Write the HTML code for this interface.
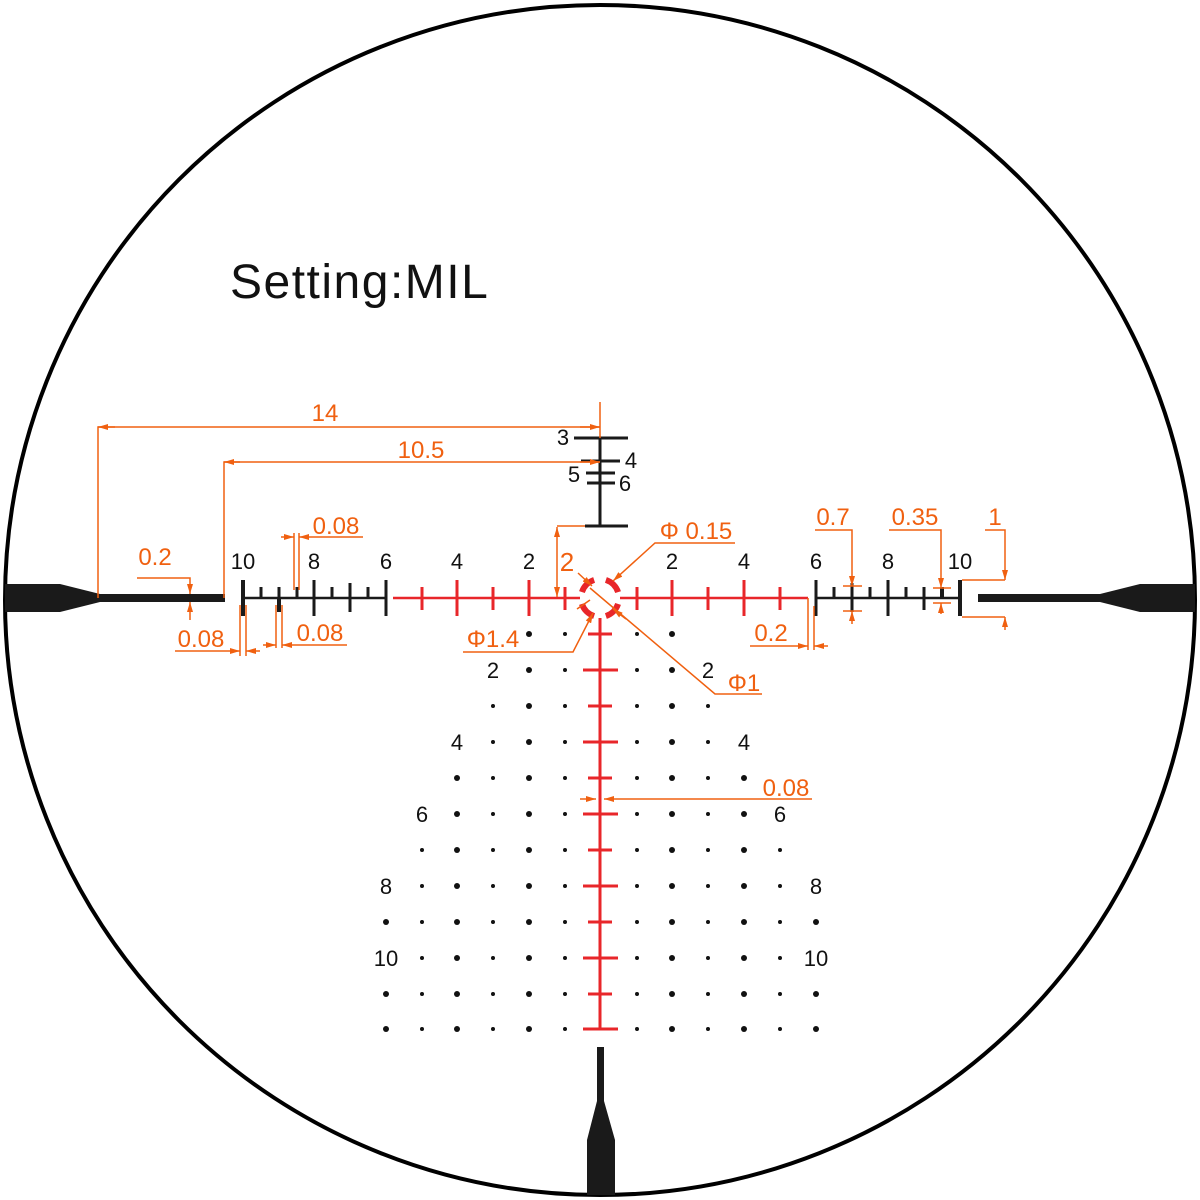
<!DOCTYPE html>
<html><head><meta charset="utf-8"><style>html,body{margin:0;padding:0;background:#fff}svg{display:block}</style></head><body>
<svg width="1200" height="1200" viewBox="0 0 1200 1200" xmlns="http://www.w3.org/2000/svg" font-family="Liberation Sans, sans-serif">
<defs>
<marker id="a" viewBox="0 0 10 6" refX="10" refY="3" markerWidth="10" markerHeight="6" markerUnits="userSpaceOnUse" orient="auto-start-reverse"><path d="M0,0L10,3L0,6z" fill="#f06010"/></marker>
</defs>
<circle cx="600" cy="600" r="595" fill="none" stroke="#000" stroke-width="4"/>
<text x="230" y="298" font-size="48" fill="#111" letter-spacing="1.5">Setting:MIL</text>
<path d="M5,584 L60,584 L100,594 L225,594 L225,602 L100,602 L60,612 L5,612 Z" fill="#1a1a1a"/>
<path d="M1195,584 L1140,584 L1100,594 L978,594 L978,602 L1100,602 L1140,612 L1195,612 Z" fill="#1a1a1a"/>
<path d="M597,1047 L604,1047 L604,1101 L615,1140 L615,1195 L587,1195 L587,1140 L597,1101 Z" fill="#1a1a1a"/>
<g stroke="#1a1a1a" stroke-width="3">
<line x1="243" y1="598" x2="386" y2="598" stroke-width="2.5"/>
<line x1="243" y1="580" x2="243" y2="616" stroke-width="4"/>
<line x1="261" y1="587" x2="261" y2="598"/>
<line x1="279" y1="587" x2="279" y2="612"/>
<line x1="279" y1="598" x2="279" y2="612" stroke-width="4"/>
<line x1="297" y1="587" x2="297" y2="598"/>
<line x1="314" y1="580" x2="314" y2="616"/>
<line x1="332" y1="587" x2="332" y2="598"/>
<line x1="350" y1="583" x2="350" y2="612"/>
<line x1="368" y1="587" x2="368" y2="598"/>
<line x1="386" y1="580" x2="386" y2="616"/>
<line x1="816" y1="598" x2="960" y2="598" stroke-width="2.5"/>
<line x1="816" y1="580" x2="816" y2="616"/>
<line x1="834" y1="587" x2="834" y2="598"/>
<line x1="852" y1="583" x2="852" y2="612"/>
<line x1="870" y1="587" x2="870" y2="598"/>
<line x1="888" y1="580" x2="888" y2="616"/>
<line x1="906" y1="587" x2="906" y2="598"/>
<line x1="924" y1="587" x2="924" y2="610"/>
<line x1="942" y1="587" x2="942" y2="598" stroke-width="4"/>
<line x1="960" y1="580" x2="960" y2="616" stroke-width="4"/>
<line x1="600" y1="438" x2="600" y2="526"/>
<line x1="574" y1="438" x2="628" y2="438"/>
<line x1="581" y1="461" x2="620" y2="461"/>
<line x1="586" y1="473" x2="615" y2="473"/>
<line x1="587" y1="483" x2="615" y2="483"/>
<line x1="585" y1="526" x2="628" y2="526"/>
</g>
<g font-size="22" fill="#111" text-anchor="middle">
<text x="243" y="569">10</text><text x="314" y="569">8</text><text x="386" y="569">6</text>
<text x="457" y="569">4</text><text x="529" y="569">2</text>
<text x="672" y="569">2</text><text x="744" y="569">4</text>
<text x="816" y="569">6</text><text x="888" y="569">8</text><text x="960" y="569">10</text>
<text x="563" y="445">3</text><text x="631" y="468">4</text><text x="574" y="482">5</text><text x="625" y="491">6</text>
<text x="493" y="678">2</text><text x="708" y="678">2</text>
<text x="457" y="750">4</text><text x="744" y="750">4</text>
<text x="422" y="822">6</text><text x="780" y="822">6</text>
<text x="386" y="894">8</text><text x="816" y="894">8</text>
<text x="386" y="966">10</text><text x="816" y="966">10</text>
</g>
<g stroke="#e8262a" stroke-width="3">
<line x1="393" y1="598" x2="580" y2="598" stroke-width="2.5"/>
<line x1="620" y1="598" x2="808" y2="598" stroke-width="2.5"/>
<line x1="422" y1="587" x2="422" y2="610"/><line x1="457" y1="580" x2="457" y2="616"/>
<line x1="493" y1="587" x2="493" y2="610"/><line x1="529" y1="580" x2="529" y2="616"/>
<line x1="565" y1="587" x2="565" y2="610"/>
<line x1="637" y1="587" x2="637" y2="610"/><line x1="672" y1="580" x2="672" y2="616"/>
<line x1="708" y1="587" x2="708" y2="610"/><line x1="744" y1="580" x2="744" y2="616"/>
<line x1="780" y1="587" x2="780" y2="610"/>
<line x1="600" y1="618" x2="600" y2="1030"/>
<line x1="588" y1="634" x2="612" y2="634"/><line x1="583" y1="670" x2="618" y2="670"/>
<line x1="588" y1="706" x2="612" y2="706"/><line x1="583" y1="742" x2="618" y2="742"/>
<line x1="588" y1="778" x2="612" y2="778"/><line x1="583" y1="814" x2="618" y2="814"/>
<line x1="588" y1="850" x2="612" y2="850"/><line x1="583" y1="886" x2="618" y2="886"/>
<line x1="588" y1="922" x2="612" y2="922"/><line x1="583" y1="958" x2="618" y2="958"/>
<line x1="588" y1="994" x2="612" y2="994"/><line x1="583" y1="1029" x2="618" y2="1029"/>
<circle cx="600" cy="598" r="19" fill="none" stroke-width="6" stroke-dasharray="17.8 12" stroke-dashoffset="-6"/>
</g>
<g fill="#111" id="dots"></g>
<g stroke="#f06010" stroke-width="1.5" fill="none">
<line x1="600" y1="402" x2="600" y2="438"/>
<polyline points="98,598 98,427 600,427"/>
<line x1="115" y1="427" x2="98" y2="427" marker-end="url(#a)"/>
<polyline points="224,598 224,462 600,462"/>
<line x1="240" y1="462" x2="224" y2="462" marker-end="url(#a)"/>
<line x1="580" y1="462" x2="600" y2="462" marker-end="url(#a)"/>
<line x1="580" y1="427" x2="600" y2="427" marker-end="url(#a)"/>
<polyline points="137,578 190,578 190,594" marker-end="url(#a)"/>
<line x1="190" y1="620" x2="190" y2="602" marker-end="url(#a)"/>
<line x1="240" y1="605" x2="240" y2="656"/><line x1="246" y1="605" x2="246" y2="656"/>
<line x1="175" y1="651" x2="240" y2="651" marker-end="url(#a)"/>
<line x1="260" y1="651" x2="246" y2="651" marker-end="url(#a)"/>
<line x1="276" y1="605" x2="276" y2="648"/><line x1="282" y1="605" x2="282" y2="648"/>
<line x1="347" y1="645" x2="282" y2="645" marker-end="url(#a)"/>
<line x1="263" y1="645" x2="276" y2="645" marker-end="url(#a)"/>
<line x1="294" y1="533" x2="294" y2="590"/><line x1="299" y1="533" x2="299" y2="590"/>
<line x1="363" y1="537" x2="299" y2="537" marker-end="url(#a)"/>
<line x1="281" y1="537" x2="294" y2="537" marker-end="url(#a)"/>
<polyline points="585,526 557,526"/>
<line x1="557" y1="527" x2="557" y2="597" marker-start="url(#a)" marker-end="url(#a)"/>
<polyline points="735,543 655,543 613,581" marker-end="url(#a)"/>
<line x1="578" y1="573" x2="592" y2="586" marker-end="url(#a)"/>
<polyline points="463,652 573,652 593,613" marker-end="url(#a)"/>
<polyline points="762,694 715,694 590,588"/>
<line x1="626" y1="619" x2="613" y2="609" marker-end="url(#a)"/>
<line x1="577" y1="609" x2="590" y2="600" />
<line x1="808" y1="598" x2="808" y2="650"/><line x1="814" y1="606" x2="814" y2="650"/>
<line x1="750" y1="646" x2="808" y2="646" marker-end="url(#a)"/>
<line x1="828" y1="646" x2="814" y2="646" marker-end="url(#a)"/>
<polyline points="815,530 852,530 852,586" marker-end="url(#a)"/>
<line x1="852" y1="624" x2="852" y2="611" marker-end="url(#a)"/>
<line x1="843" y1="586" x2="862" y2="586"/><line x1="843" y1="611" x2="862" y2="611"/>
<polyline points="889,530 941,530 941,588" marker-end="url(#a)"/>
<line x1="941" y1="614" x2="941" y2="603" marker-end="url(#a)"/>
<line x1="933" y1="588" x2="951" y2="588"/><line x1="933" y1="603" x2="951" y2="603"/>
<polyline points="985,530 1005,530 1005,580" marker-end="url(#a)"/>
<line x1="1005" y1="630" x2="1005" y2="617" marker-end="url(#a)"/>
<line x1="962" y1="580" x2="1005" y2="580"/><line x1="962" y1="617" x2="1005" y2="617"/>
<line x1="812" y1="799" x2="604" y2="799" marker-end="url(#a)"/>
<line x1="580" y1="799" x2="596" y2="799" marker-end="url(#a)"/>
</g>
<g font-size="24" fill="#f06010" text-anchor="middle">
<text x="325" y="421">14</text><text x="421" y="458">10.5</text>
<text x="155" y="565">0.2</text><text x="201" y="647">0.08</text><text x="320" y="641">0.08</text><text x="336" y="534">0.08</text>
<text x="567" y="571" font-size="26">2</text>
<text x="696" y="539">Φ 0.15</text><text x="493" y="647">Φ1.4</text><text x="744" y="691">Φ1</text>
<text x="771" y="641">0.2</text><text x="833" y="525">0.7</text><text x="915" y="525">0.35</text><text x="995" y="525">1</text>
<text x="786" y="796">0.08</text>
</g>
<script>
(function(){
var g=document.getElementById('dots');
var L=[386,422,457,493,529,565],R=[637,672,708,744,780,816];
var big={386:1,457:1,529:1,672:1,744:1,816:1};
var rows=[[634,529,672],[670,529,672],[706,493,708],[742,493,708],[778,457,744],[814,457,744],[850,422,780],[886,422,780],[922,386,816],[958,422,780],[994,386,816],[1029,386,816]];
rows.forEach(function(r){
 L.concat(R).forEach(function(x){
  if(x>=r[1]&&x<=r[2]){
   var c=document.createElementNS('http://www.w3.org/2000/svg','circle');
   c.setAttribute('cx',x);c.setAttribute('cy',r[0]);c.setAttribute('r',big[x]?3:2);
   g.appendChild(c);
  }});
});
})();
</script>
</svg>
</body></html>
